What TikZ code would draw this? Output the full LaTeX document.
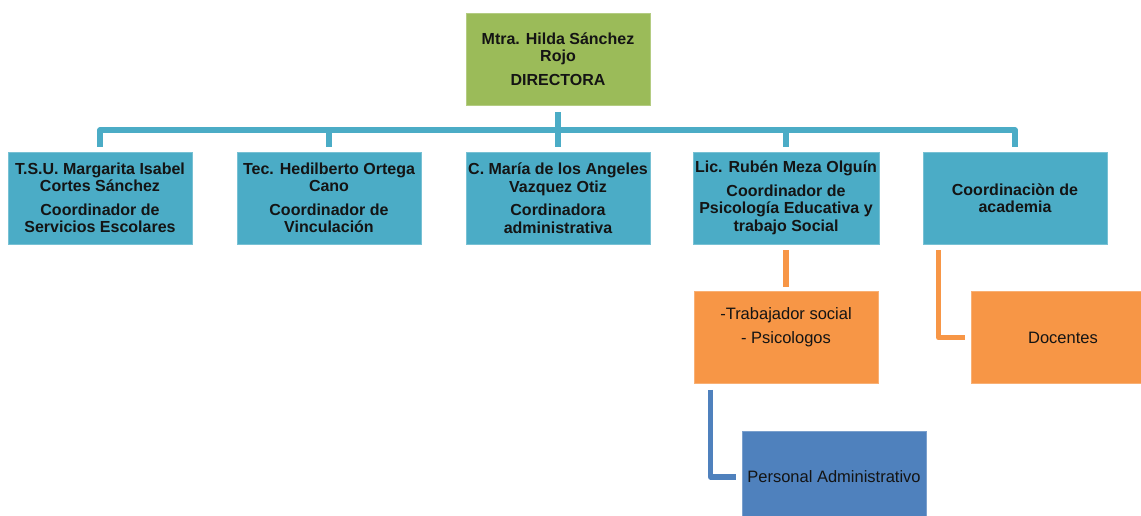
\documentclass[tikz,border=0pt]{standalone}
\usepackage{fontspec}
\setmainfont{Liberation Sans}
\definecolor{cgreen}{HTML}{9BBB59}
\definecolor{cteal}{HTML}{4BACC6}
\definecolor{corange}{HTML}{F79646}
\definecolor{cblue}{HTML}{4F81BD}
\definecolor{ctext}{HTML}{141414}
\tikzset{
  x=1pt, y=-1pt,
  box/.style={rectangle, minimum width=184pt, minimum height=92pt, inner sep=2pt,
    align=center, text=ctext, line width=0.6pt},
  boldtxt/.style={font=\fontsize{16}{17.5}\selectfont\bfseries},
  regtxt/.style={font=\fontsize{16.5}{18}\selectfont},
  gbox/.style={box, boldtxt, fill=cgreen, draw=cgreen!75!white},
  tbox/.style={box, boldtxt, fill=cteal, draw=cteal!75!white},
  obox/.style={box, regtxt, fill=corange, draw=corange!75!white},
  bbox/.style={box, regtxt, fill=cblue, draw=cblue!75!white},
  tline/.style={draw=cteal, line width=5.5pt, line join=round},
  oline/.style={draw=corange, line width=5.5pt, line join=round},
  bline/.style={draw=cblue, line width=5.5pt, line join=round},
}
\begin{document}
\begin{tikzpicture}
\useasboundingbox (0,0) rectangle (1141,516);
\clip (0,0) rectangle (1141,516);
\fill[white] (0,0) rectangle (1141,516);

\node[gbox] (dir) at (558,59) {Mtra. Hilda Sánchez\\Rojo\\[6pt]DIRECTORA};

\node[tbox] (c1) at (100,198) {T.S.U. Margarita Isabel\\Cortes Sánchez\\[6pt]Coordinador de\\Servicios Escolares};
\node[tbox] (c2) at (329,198) {Tec. Hedilberto Ortega\\Cano\\[6pt]Coordinador de\\Vinculación};
\node[tbox] (c3) at (558,198) {C. María de los Angeles\\Vazquez Otiz\\[6pt]Cordinadora\\administrativa};
\node[tbox] (c4) at (786,198) {Lic. Rubén Meza Olguín\\[6pt]Coordinador de\\Psicología Educativa y\\trabajo Social};
\node[tbox] (c5) at (1015,198) {Coordinaciòn de\\academia};

\node[obox] (trab) at (786,337.5) {-Trabajador social\\[6pt]- Psicologos\\[6pt]\mbox{}};
\node[obox] (doc) at (1063,337.5) {Docentes};
\node[bbox] (pers) at (834,477) {Personal Administrativo};

\coordinate (bus) at (558,130);
\draw[tline] ([yshift=-7pt]dir.south) -- (dir.south |- bus);
\draw[tline] ([yshift=5pt]c1.north) -- (c1.north |- bus) -- (c5.north |- bus) -- ([yshift=5pt]c5.north);
\draw[tline] ([yshift=5pt]c2.north) -- (c2.north |- bus);
\draw[tline] ([yshift=5pt]c3.north) -- (c3.north |- bus);
\draw[tline] ([yshift=5pt]c4.north) -- (c4.north |- bus);

\draw[oline] ([yshift=-6pt]c4.south) -- ([yshift=4pt]trab.north);
\draw[oline] ([xshift=16pt,yshift=-6pt]c5.south west) |- ([xshift=-6pt]doc.west);
\draw[bline] ([xshift=17pt,yshift=-6pt]trab.south west) |- ([xshift=-6pt]pers.west);
\end{tikzpicture}
\end{document}
